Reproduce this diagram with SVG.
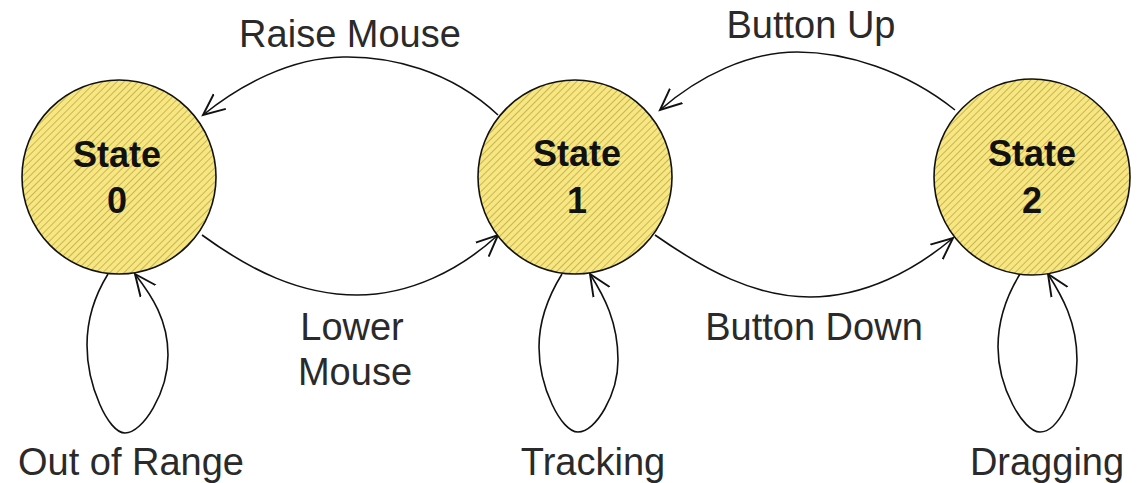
<svg xmlns="http://www.w3.org/2000/svg" width="1146" height="483" viewBox="0 0 1146 483">
  <defs>
    <!-- yellow fill with fine diagonal hatching -->
    <pattern id="hatch" patternUnits="userSpaceOnUse" width="5" height="5" patternTransform="rotate(45)">
      <rect width="5" height="5" fill="#F6E783"/>
      <line x1="0" y1="0" x2="0" y2="5" stroke="#CBB452" stroke-width="2"/>
    </pattern>
    <marker id="arrow" viewBox="0 0 20 20" refX="18" refY="10" markerWidth="24" markerHeight="24" markerUnits="userSpaceOnUse" orient="auto">
      <path d="M0,2 L18,10 L0,18" fill="none" stroke="#111" stroke-width="1.6"/>
    </marker>
  </defs>
  <style>
    .state { fill: url(#hatch); stroke: #111; stroke-width: 1.6; }
    .state-label { font-family: "Liberation Sans", Arial, sans-serif; font-weight: bold; font-size: 36px; fill: #111; text-anchor: middle; }
    .edge { fill: none; stroke: #111; stroke-width: 1.6; marker-end: url(#arrow); }
    .edge-label { font-family: "Liberation Sans", Arial, sans-serif; font-size: 38px; fill: #2a2a2a; text-anchor: middle; }
  </style>
  <rect width="1146" height="483" fill="#fff"/>

  <g id="connectors">
    <!-- Raise Mouse: state 1 -> state 0 -->
    <path class="edge" d="M498,115 C450,70 390,56 343,57 C290,58 240,85 203,115"/>
    <!-- Lower Mouse: state 0 -> state 1 -->
    <path class="edge" d="M202,235 C250,270 300,295 357,295 C410,295 460,270 498,235"/>
    <!-- Button Up: state 2 -> state 1 -->
    <path class="edge" d="M955,110 C905,70 845,52 797,52 C750,52 700,75 660,110"/>
    <!-- Button Down: state 1 -> state 2 -->
    <path class="edge" d="M655,235 C705,270 755,297 810,297 C865,297 915,270 953,238"/>
    <!-- self loops -->
    <path class="edge" d="M108,274 C95,295 87,320 87,345 C87,385 108,433 125,433 C143,433 168,392 168,355 C168,320 152,296 135,274"/>
    <path class="edge" d="M562,274 C549,295 539,320 539,347 C539,387 561,432 578,432 C596,432 618,394 618,360 C618,322 604,296 590,274"/>
    <path class="edge" d="M1020,274 C1007,295 998,320 998,347 C998,387 1023,432 1040,432 C1058,432 1077,394 1077,360 C1077,322 1062,296 1048,274"/>
  </g>

  <g id="state0">
    <circle class="state" cx="119" cy="177" r="97"/>
    <text class="state-label" x="117" y="167">State</text>
    <text class="state-label" x="117" y="213">0</text>
  </g>
  <g id="state1">
    <circle class="state" cx="575" cy="177" r="97"/>
    <text class="state-label" x="577" y="166">State</text>
    <text class="state-label" x="577" y="213">1</text>
  </g>
  <g id="state2">
    <circle class="state" cx="1032" cy="177" r="98"/>
    <text class="state-label" x="1032" y="166">State</text>
    <text class="state-label" x="1032" y="213">2</text>
  </g>

  <g id="labels">
    <text class="edge-label" x="350" y="47">Raise Mouse</text>
    <text class="edge-label" x="811" y="38">Button Up</text>
    <text class="edge-label" x="352" y="340">Lower</text>
    <text class="edge-label" x="355" y="385">Mouse</text>
    <text class="edge-label" x="814" y="340">Button Down</text>
    <text class="edge-label" x="131" y="475">Out of Range</text>
    <text class="edge-label" x="593" y="475">Tracking</text>
    <text class="edge-label" x="1047" y="475">Dragging</text>
  </g>
</svg>
